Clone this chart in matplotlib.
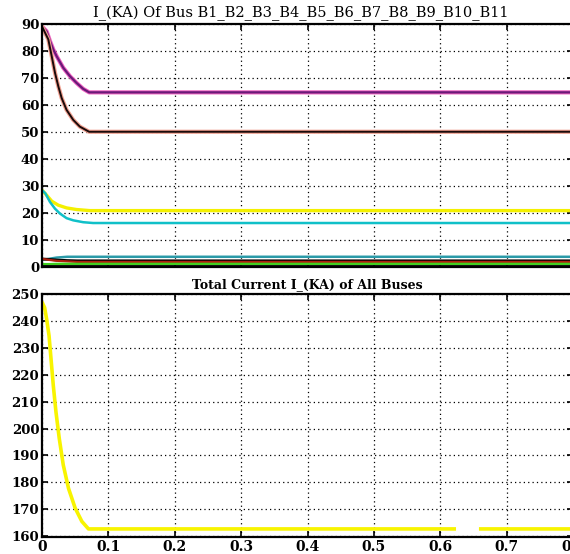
import numpy as np
import matplotlib.pyplot as plt

# ---- bus currents (kA) ----
t_purple = [0, 0.007, 0.012, 0.017, 0.022, 0.032, 0.042, 0.052, 0.062, 0.071, 0.8]
i_purple = [89.1, 87.3, 83.7, 80.6, 78.1, 73.8, 70.7, 68.2, 66.0, 64.7, 64.7]

t_black = [0, 0.0095, 0.0146, 0.0196, 0.0246, 0.0296, 0.037, 0.047, 0.057, 0.071, 0.8]
i_black = [89.1, 84.3, 78.1, 71.9, 66.9, 62.6, 58.2, 54.5, 52.0, 50.1, 50.1]

t_yellow = [0, 0.007, 0.0146, 0.0246, 0.037, 0.052, 0.072, 0.8]
i_yellow = [28.5, 26.6, 24.4, 22.9, 21.9, 21.3, 20.9, 20.9]

t_cyan = [0, 0.005, 0.012, 0.0196, 0.027, 0.037, 0.047, 0.062, 0.077, 0.8]
i_cyan = [28.5, 27.3, 24.1, 21.6, 19.8, 18.1, 17.3, 16.6, 16.3, 16.3]

t_low = [0, 0.012, 0.022, 0.038, 0.053, 0.07, 0.8]
i_teal = [2.6, 3.1, 3.5, 3.8, 3.8, 3.8, 3.8]
i_blk2 = [3.0, 2.8, 2.6, 2.4, 2.3, 2.3, 2.3]
i_red = [3.0, 2.6, 2.3, 2.1, 1.9, 1.9, 1.9]
i_green = [1.0, 1.0, 1.1, 1.1, 1.1, 1.1, 1.1]
i_blk3 = [0.3, 0.3, 0.3, 0.3, 0.3, 0.3, 0.3]

# ---- total current of all buses (kA), gap in the record near 0.64 s ----
t_tot = [0.001, 0.004, 0.007, 0.0106, 0.0136, 0.017, 0.021, 0.026, 0.032,
         0.04, 0.05, 0.06, 0.07, 0.621, np.nan, 0.661, 0.8]
i_tot = [246.5, 244.9, 240.6, 234.5, 225.8, 216.0, 206.2, 196.3, 186.5,
         177.7, 170.4, 165.5, 162.7, 162.7, np.nan, 162.7, 162.7]

x_ticks = [0, 0.1, 0.2, 0.3, 0.4, 0.5, 0.6, 0.7, 0.8]
x_ticklabels = ["0", "0.1", "0.2", "0.3", "0.4", "0.5", "0.6", "0.7", "0.8"]

tick_font = {"family": "DejaVu Serif", "weight": "bold", "size": 9.5}

fig = plt.figure(figsize=(5.7, 5.54), dpi=100)
ax1 = fig.add_axes([0.0737, 0.518, 0.9316, 0.4386])
ax2 = fig.add_axes([0.0737, 0.0307, 0.9316, 0.4386])


def style_axes(ax):
    ax.grid(True, linestyle=(0, (1, 2.5)), color="black", linewidth=0.9)
    ax.tick_params(direction="in", top=True, right=True, length=4, width=1.2, pad=2)
    for s in ax.spines.values():
        s.set_linewidth(1.6)
    ax.set_xlim(0, 0.8)
    ax.set_xticks(x_ticks)


# top panel
ax1.plot(t_purple, i_purple, color="#f060c0", lw=3.0)
ax1.plot(t_purple, i_purple, color="#6a1a78", lw=1.6)
ax1.plot(t_black, i_black, color="#f0a090", lw=3.0)
ax1.plot(t_black, i_black, color="#1a0a0a", lw=1.4)
ax1.plot(t_yellow, i_yellow, color="#f4f000", lw=2.4)
ax1.plot(t_cyan, i_cyan, color="#10c0c8", lw=1.8)
ax1.plot(t_low, i_teal, color="#2a9aa8", lw=1.8)
ax1.plot(t_low, i_blk2, color="black", lw=2.0)
ax1.plot(t_low, i_red, color="#b02010", lw=1.6)
ax1.plot(t_low, i_green, color="#40d020", lw=2.0)
ax1.plot(t_low, i_blk3, color="black", lw=2.0)
style_axes(ax1)
ax1.set_ylim(0, 89.5)
ax1.set_yticks(range(0, 91, 10))
ax1.set_yticklabels([str(v) for v in range(0, 91, 10)], fontdict=tick_font)
ax1.set_xticklabels([])
ax1.set_title("I_(KA) Of Bus B1_B2_B3_B4_B5_B6_B7_B8_B9_B10_B11",
              family="DejaVu Serif", size=10.5, pad=5, x=0.487)

# bottom panel
ax2.plot(t_tot, i_tot, color="#f8f400", lw=2.6)
style_axes(ax2)
ax2.set_ylim(159.7, 249.8)
ax2.set_yticks(range(160, 251, 10))
ax2.set_yticklabels([str(v) for v in range(160, 251, 10)], fontdict=tick_font)
ax2.set_xticklabels(x_ticklabels, fontdict={**tick_font, "size": 10})
ax2.set_title("Total Current I_(KA) of All Buses",
              family="DejaVu Serif", weight="bold", size=9, pad=4, x=0.5)

fig.savefig("out.png", dpi=100)
